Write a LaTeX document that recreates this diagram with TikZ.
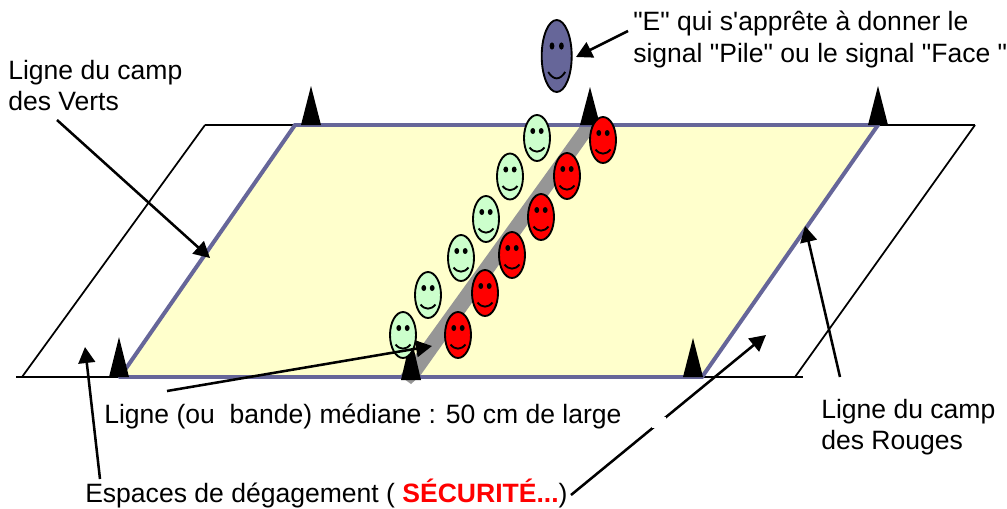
\documentclass[tikz,border=0pt]{standalone}
\usepackage{fontspec}
\setmainfont{Liberation Sans}[Ligatures=TeXOff]
\usetikzlibrary{shapes.geometric,arrows.meta,calc}
\definecolor{fieldc}{HTML}{FFFFCC}
\definecolor{edgec}{HTML}{666699}
\definecolor{bandc}{HTML}{969696}
\definecolor{greenf}{HTML}{CCFFCC}
\tikzset{
  lab/.style={anchor=base west,inner sep=0pt,font=\fontsize{19.9pt}{24pt}\selectfont,text=black},
  thinline/.style={draw=black,line width=1.3pt},
  edgeline/.style={draw=edgec,line width=3pt,line cap=round},
  pointer/.style={draw=black,line width=1.9pt,-{Triangle[length=12pt,width=12.5pt]}},
  cone/.style={fill=black,draw=none},
  face/.style={draw=black,line width=1.4pt,ellipse,inner sep=0pt,minimum width=19.5pt,minimum height=34.5pt},
}
\newcommand{\smileface}[4]{%
  \node[face,fill=#4] (#1) at (#2,#3) {};
  \fill[black] ($(#1)+(-4.2,-7)$) ellipse [x radius=2.4,y radius=3];
  \fill[black] ($(#1)+(4.2,-7)$) ellipse [x radius=2.4,y radius=3];
  \draw[black,line width=1.4pt] ($(#1)+(-7.5,9.5)$) .. controls ($(#1)+(-3,15)$) and ($(#1)+(3,15)$) .. ($(#1)+(7.5,9.5)$);
}
\newcommand{\conemark}[3]{%
  \fill[cone] (#1-10,#3) -- (#1,#2) -- (#1+10,#3) -- cycle;
}
\begin{document}
\begin{tikzpicture}[x=0.75pt,y=-0.75pt]
\useasboundingbox (0,0) rectangle (1007,508);
% clearance outline
\coordinate (tl) at (295,125); \coordinate (tr) at (878,125);
\coordinate (br) at (702,377); \coordinate (bl) at (120,377);
\coordinate (otl) at (205,125); \coordinate (otr) at (975,125);
\coordinate (obl) at (22,377); \coordinate (obr) at (795,377);
\coordinate (elb) at (16,377); \coordinate (erb) at (803,377);
\draw[thinline] (otl) -- (tl);
\draw[thinline] (tr) -- (otr);
\draw[thinline] (elb) -- (bl);
\draw[thinline] (br) -- (erb);
\draw[thinline] (otl) -- (obl);
\draw[thinline] (otr) -- (obr);
% field
\fill[fieldc] (tl) -- (tr) -- (br) -- (bl) -- cycle;
% centre band
\fill[bandc] (581,125) -- (598,125) -- (420,376) -- (411,384) -- (400,376) -- cycle;
\draw[edgeline] (tl) -- (tr);
\draw[edgeline] (tr) -- (br);
\draw[edgeline] (br) -- (bl);
\draw[edgeline] (bl) -- (tl);
% cones
\conemark{311}{86}{125}
\conemark{590}{87}{125}
\conemark{878}{86}{125}
\conemark{119}{337}{377}
\conemark{411}{337}{380}
\conemark{693}{338}{377}
% players
\smileface{g1}{537}{138}{greenf}
\smileface{g2}{510}{176.5}{greenf}
\smileface{g3}{486}{219}{greenf}
\smileface{g4}{461}{258}{greenf}
\smileface{g5}{428}{295}{greenf}
\smileface{g6}{403}{335}{greenf}
\smileface{r1}{603}{140}{red}
\smileface{r2}{567}{176}{red}
\smileface{r3}{541}{217}{red}
\smileface{r4}{512}{255}{red}
\smileface{r5}{485}{293}{red}
\smileface{r6}{458}{335}{red}
% referee
\node[face,fill=edgec,minimum width=22.5pt,minimum height=54pt] (ref) at (556.7,56) {};
\fill[black] ($(ref)+(-4.7,-10)$) ellipse [x radius=2.4,y radius=3.6];
\fill[black] ($(ref)+(4.7,-10)$) ellipse [x radius=2.4,y radius=3.6];
\draw[black,line width=1.4pt] ($(ref)+(-8.5,16)$) .. controls ($(ref)+(-3,24.5)$) and ($(ref)+(3,24.5)$) .. ($(ref)+(8.5,16)$);
% labels
\node[lab] (tE1) at (633,30.5) {"E" qui s'apprête à donner le};
\node[lab] (tE2) at (633,62) {signal "Pile" ou le signal "Face "};
\node[lab] (tV1) at (8,79) {Ligne du camp};
\node[lab] (tV2) at (8,110) {des Verts};
\node[lab] (tR1) at (821,418) {Ligne du camp};
\node[lab] (tR2) at (821,449) {des Rouges};
\node[lab] (tM) at (104,423) {Ligne (ou\ \ bande) médiane : 50 cm de large};
\node[lab] (tS) at (85,502) {Espaces de dégagement ( \textcolor{red}{\textbf{SÉCURITÉ...}})};
% pointers
\coordinate (aE) at (628,31);   \coordinate (aEe) at (576,57);
\coordinate (aV) at (57,120);   \coordinate (aVe) at (210,258);
\coordinate (aR) at (840,377);  \coordinate (aRe) at (805,226);
\coordinate (aS) at (100,479);  \coordinate (aSe) at (85,347);
\coordinate (aM) at (167,391);  \coordinate (aMe) at (432,346);
\coordinate (aD) at (571,495);  \coordinate (aDe) at (766,335);
\draw[pointer] (aE) -- (aEe);
\draw[pointer] (aV) -- (aVe);
\draw[pointer] (aR) -- (aRe);
\draw[pointer] (aS) -- (aSe);
\draw[pointer] (aM) -- (aMe);
\draw[pointer] (aD) -- (aDe);
\fill[white] (652,417) rectangle (666,428);
\end{tikzpicture}
\end{document}
